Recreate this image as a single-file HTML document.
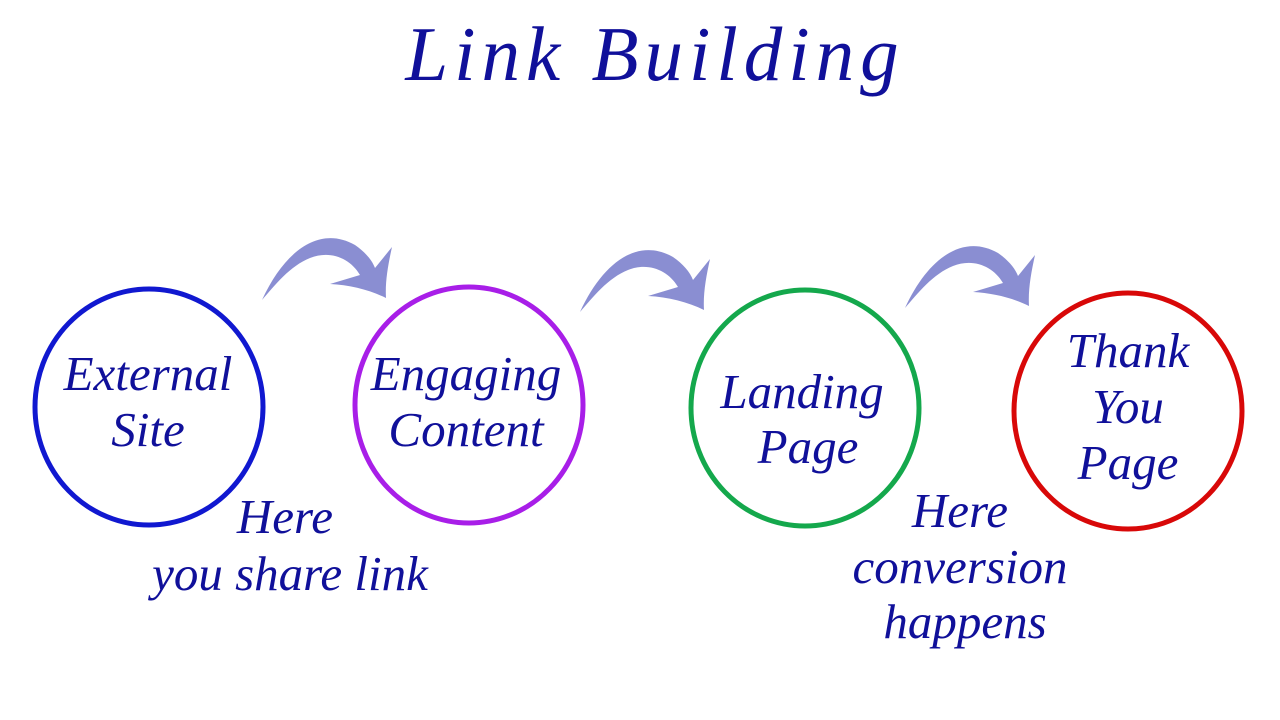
<!DOCTYPE html>
<html><head><meta charset="utf-8"><style>
body{margin:0;background:#fff;}
svg{display:block}
text{font-family:"Liberation Serif",serif;font-style:italic;fill:#10109a;text-anchor:middle}
</style></head><body>
<svg width="1280" height="720" viewBox="0 0 1280 720">
<text x="655" y="80" font-size="77" letter-spacing="6">Link Building</text>
<g fill="#8a8ed2">
<path d="M262,300 C285,250 320,225 355,245 C365,252 372,260 375,268 L392,247 C388,265 385,282 386,298 C370,290 350,285 330,284 L360,275 C350,258 330,250 310,258 C290,266 275,285 262,300Z"/>
<path d="M580,312 C603,262 638,237 673,257 C683,264 690,272 693,280 L710,259 C706,277 703,294 704,310 C688,302 668,297 648,296 L678,287 C668,270 648,262 628,270 C608,278 593,297 580,312Z"/>
<path d="M905,308 C928,258 963,233 998,253 C1008,260 1015,268 1018,276 L1035,255 C1031,273 1028,290 1029,306 C1013,298 993,293 973,292 L1003,283 C993,266 973,258 953,266 C933,274 918,293 905,308Z"/>
</g>
<g fill="none" stroke-linecap="round">
<ellipse cx="149" cy="407" rx="114" ry="118" stroke="#1018d0" stroke-width="5"/>
<ellipse cx="469" cy="405" rx="114" ry="118" stroke="#a81ee8" stroke-width="5"/>
<ellipse cx="805" cy="408" rx="114" ry="118" stroke="#14a84c" stroke-width="5"/>
<ellipse cx="1128" cy="411" rx="114" ry="118" stroke="#d80808" stroke-width="5"/>
</g>
<g font-size="49">
<text x="148" y="390">External</text><text x="148" y="446">Site</text>
<text x="466" y="390">Engaging</text><text x="466" y="446">Content</text>
<text x="802" y="408">Landing</text><text x="808" y="463">Page</text>
<text x="1128" y="367">Thank</text><text x="1128" y="423">You</text><text x="1128" y="479">Page</text>
<text x="285" y="533">Here</text><text x="290" y="590">you share link</text>
<text x="960" y="527">Here</text><text x="960" y="583">conversion</text><text x="965" y="638">happens</text>
</g>
</svg>
</body></html>
